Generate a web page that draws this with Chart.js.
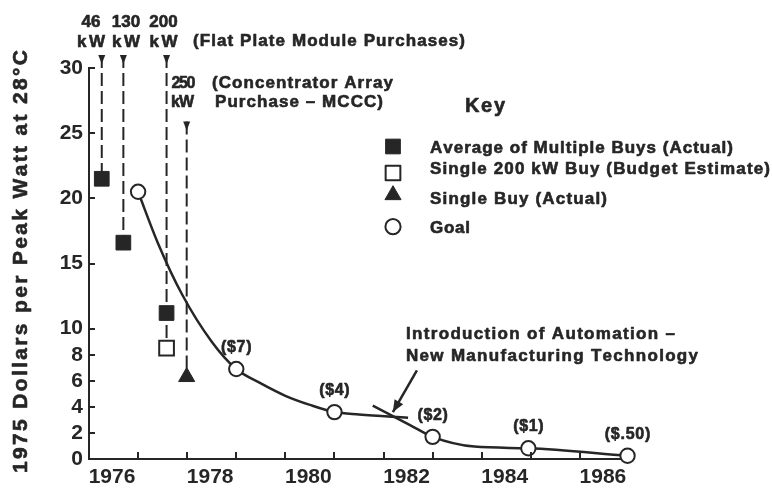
<!DOCTYPE html>
<html><head><meta charset="utf-8">
<script src="https://cdn.jsdelivr.net/npm/chart.js@4.4.1/dist/chart.umd.min.js"></script>
<style>html,body{margin:0;padding:0;background:#fff}canvas{display:block}</style>
</head><body>
<canvas id="c" width="772" height="488"></canvas>
<script>
// ---------- data ----------
const yTickValues = [0, 2, 4, 6, 8, 10, 15, 20, 25, 30];
const xLabelYears = [1976, 1978, 1980, 1982, 1984, 1986];
const xTickYears = [1977, 1978, 1979, 1980, 1981, 1982, 1983, 1984, 1985, 1986];

const avgBuysYear = [1976.26, 1976.7, 1977.58];
const avgBuysCost = [21.5, 16.6, 11.2];
const budgetYear = [1977.58];
const budgetCost = [8.5];
const singleBuyYear = [1977.99];
const singleBuyCost = [6.3];

const goalYear = [1977.0, 1979.0, 1981.0, 1983.0, 1984.95, 1986.97];
const goalCost = [20.5, 6.9, 3.6, 1.7, 0.82, 0.25];
const goalLabels = ['', '($7)', '($4)', '($2)', '($1)', '($.50)'];

const curveAYear = [1977.0, 1977.4, 1977.9, 1978.5, 1979.0, 1979.5, 1980.0, 1980.5, 1981.0, 1981.5, 1982.5];
const curveACost = [20.5, 16.6, 12.6, 9.0, 6.9, 5.8, 4.85, 4.15, 3.6, 3.42, 3.17];
const curveBYear = [1981.78, 1982.54, 1983.0, 1983.85, 1984.95, 1986.97];
const curveBCost = [4.1, 2.6, 1.7, 0.95, 0.82, 0.25];

const purchaseYear = [1976.26, 1976.7, 1977.58, 1977.99];
const purchaseTop = [31.0, 31.0, 31.0, 25.9];
const purchaseBottom = [21.5, 16.6, 8.5, 6.3];

const automationArrowYear = [1982.68, 1982.19];
const automationArrowCost = [6.8, 3.6];

const yTitle = '1975 Dollars per Peak Watt at 28°C';
const legendLabels = ['Average of Multiple Buys (Actual)', 'Single 200 kW Buy (Budget Estimate)', 'Single Buy (Actual)', 'Goal'];

// ---------- styles ----------
const FONT = '"Liberation Sans", Arial, Helvetica, sans-serif';
const INK = '#262626';

const pts = (xs, ys) => xs.map((x, i) => ({x: x, y: ys[i]}));

const avgStyle = {pointStyle: 'rect', radius: 10.4, backgroundColor: INK, borderColor: INK, borderWidth: 1, rotation: 0};
const budgetStyle = {pointStyle: 'rect', radius: 10.4, backgroundColor: '#fff', borderColor: INK, borderWidth: 2, rotation: 0};
const triStyle = {pointStyle: 'triangle', radius: 9.3, backgroundColor: INK, borderColor: INK, borderWidth: 1, rotation: 0};
const goalStyle = {pointStyle: 'circle', radius: 7.2, backgroundColor: '#fff', borderColor: INK, borderWidth: 2, rotation: 0};

function markerDs(label, data, st) {
  return {label, data, showLine: false, order: 0, clip: false,
    pointStyle: st.pointStyle, pointRadius: st.radius, pointHoverRadius: st.radius,
    pointBackgroundColor: st.backgroundColor, pointBorderColor: st.borderColor,
    pointBorderWidth: st.borderWidth};
}

const datasets = [
  markerDs('Goal', pts(goalYear, goalCost), goalStyle),
  markerDs('Average of Multiple Buys (Actual)', pts(avgBuysYear, avgBuysCost), avgStyle),
  markerDs('Single 200 kW Buy (Budget Estimate)', pts(budgetYear, budgetCost), budgetStyle),
  markerDs('Single Buy (Actual)', pts(singleBuyYear, singleBuyCost), triStyle),
  {label: 'curveA', data: pts(curveAYear, curveACost), showLine: true, order: 2, pointRadius: 0,
    borderColor: INK, borderWidth: 2.5, cubicInterpolationMode: 'monotone', clip: false},
  {label: 'curveB', data: pts(curveBYear, curveBCost), showLine: true, order: 2, pointRadius: 0,
    borderColor: INK, borderWidth: 2.5, cubicInterpolationMode: 'monotone', clip: false},
  {label: 'automation', data: pts(automationArrowYear, automationArrowCost), showLine: true, order: 2,
    pointRadius: 0, borderColor: INK, borderWidth: 2.5, arrowEnd: true, clip: false}
];
purchaseYear.forEach((yr, i) => {
  datasets.push({label: 'purchase' + i, data: [{x: yr, y: purchaseTop[i]}, {x: yr, y: purchaseBottom[i]}],
    showLine: true, order: 3, pointRadius: 0, borderColor: INK, borderWidth: 2,
    borderDash: [13, 5], arrowTop: true, clip: false});
});

function drawSpaced(ctx, text, x, y, size, width, align, weight) {
  ctx.font = (weight || 'bold') + ' ' + size + 'px ' + FONT;
  const chars = Array.from(text);
  const widths = chars.map(c => ctx.measureText(c).width);
  const natural = widths.reduce((a, b) => a + b, 0);
  const ls = (width && chars.length > 1) ? (width - natural) / (chars.length - 1) : 0;
  const total = natural + ls * (chars.length - 1);
  let cx = align === 'center' ? x - total / 2 : (align === 'right' ? x - total : x);
  ctx.textAlign = 'left';
  ctx.lineWidth = 0.6;
  ctx.lineJoin = 'round';
  chars.forEach((c, i) => { ctx.fillText(c, cx, y); ctx.strokeText(c, cx, y); cx += widths[i] + ls; });
}

const annotPlugin = {
  id: 'annot',
  afterDatasetsDraw(chart) {
    const ctx = chart.ctx;
    const xs = chart.scales.x, ys = chart.scales.y;
    ctx.save();
    ctx.fillStyle = INK; ctx.strokeStyle = INK;
    // inward tick marks
    ctx.lineWidth = 2;
    xTickYears.forEach(v => {
      const px = Math.round(xs.getPixelForValue(v));
      ctx.beginPath(); ctx.moveTo(px, ys.bottom); ctx.lineTo(px, ys.bottom - 7); ctx.stroke();
    });
    yTickValues.forEach(v => {
      if (v === 0) return;
      const py = Math.round(ys.getPixelForValue(v));
      ctx.beginPath(); ctx.moveTo(xs.left, py); ctx.lineTo(xs.left + 6, py); ctx.stroke();
    });
    // arrowheads
    chart.data.datasets.forEach((ds, i) => {
      const meta = chart.getDatasetMeta(i);
      if (ds.arrowTop) {
        const p = meta.data[0];
        ctx.beginPath();
        ctx.moveTo(p.x - 3.5, p.y); ctx.lineTo(p.x + 3.5, p.y); ctx.lineTo(p.x, p.y + 9);
        ctx.closePath(); ctx.fill();
      }
      if (ds.arrowEnd) {
        const a = meta.data[0], b = meta.data[meta.data.length - 1];
        const ang = Math.atan2(b.y - a.y, b.x - a.x);
        const L = 12, W = 5;
        ctx.beginPath();
        ctx.moveTo(b.x, b.y);
        ctx.lineTo(b.x - L * Math.cos(ang) + W * Math.sin(ang), b.y - L * Math.sin(ang) - W * Math.cos(ang));
        ctx.lineTo(b.x - L * Math.cos(ang) - W * Math.sin(ang), b.y - L * Math.sin(ang) + W * Math.cos(ang));
        ctx.closePath(); ctx.fill();
      }
    });
    // goal labels
    ctx.textBaseline = 'alphabetic';
    goalLabels.forEach((t, i) => {
      if (!t) return;
      const px = xs.getPixelForValue(goalYear[i]);
      const py = ys.getPixelForValue(goalCost[i]);
      drawSpaced(ctx, t, px, py - 17, 16, t.length * 7.6, 'center', 'bold');
    });
    // top annotations
    drawSpaced(ctx, '46', 91, 27, 17, null, 'center');
    drawSpaced(ctx, 'kW', 91, 47, 17, 28, 'center');
    drawSpaced(ctx, '130', 126, 27, 17, null, 'center');
    drawSpaced(ctx, 'kW', 126, 47, 17, 28, 'center');
    drawSpaced(ctx, '200', 163.5, 27, 17, null, 'center');
    drawSpaced(ctx, 'kW', 163.5, 47, 17, 28, 'center');
    drawSpaced(ctx, '(Flat Plate Module Purchases)', 193, 46, 17, 272, 'left');
    drawSpaced(ctx, '250', 171.5, 88, 16, 24, 'left');
    drawSpaced(ctx, 'kW', 171, 107, 16, 23, 'left');
    drawSpaced(ctx, '(Concentrator Array', 212, 88, 17, 181, 'left');
    drawSpaced(ctx, 'Purchase \u2013 MCCC)', 215, 107, 17, 168, 'left');
    // key
    drawSpaced(ctx, 'Key', 465, 112, 20, 40, 'left');
    const legY = [146.5, 173, 195, 226.7];
    const legBase = [152.5, 174, 203.5, 233];
    const legW = [303, 340, 177, 40];
    const styles = [avgStyle, budgetStyle, triStyle, goalStyle];
    styles.forEach((st, i) => {
      ctx.save();
      ctx.fillStyle = st.backgroundColor; ctx.strokeStyle = st.borderColor; ctx.lineWidth = st.borderWidth;
      Chart.helpers.drawPoint(ctx, {pointStyle: st.pointStyle, radius: i === 3 ? 7.6 : st.radius, rotation: 0, borderWidth: st.borderWidth}, 393, legY[i]);
      ctx.restore();
      ctx.fillStyle = INK; ctx.strokeStyle = INK;
      drawSpaced(ctx, legendLabels[i], 430, legBase[i], 17, legW[i], 'left');
    });
    // automation note
    drawSpaced(ctx, 'Introduction of Automation \u2013', 406, 339, 17, 269, 'left');
    drawSpaced(ctx, 'New Manufacturing Technology', 406, 361, 17, 292, 'left');
    // y title
    ctx.save();
    ctx.translate(27, 261.5);
    ctx.rotate(-Math.PI / 2);
    drawSpaced(ctx, yTitle, 0, 0, 21, 423, 'center');
    ctx.restore();
    ctx.restore();
  }
};

new Chart(document.getElementById('c'), {
  type: 'scatter',
  data: {datasets},
  options: {
    responsive: false, animation: false, devicePixelRatio: 1,
    layout: {padding: {top: 68, right: 143, bottom: 0, left: 0}},
    plugins: {legend: {display: false}, tooltip: {enabled: false}},
    scales: {
      x: {
        type: 'linear', min: 1976, max: 1987,
        afterBuildTicks: s => { s.ticks = xLabelYears.map(v => ({value: v})); },
        ticks: {callback: v => String(v), labelOffset: 23, padding: 6, autoSkip: false, maxRotation: 0,
          font: {family: FONT, size: 21, weight: 'bold'}, color: INK},
        grid: {display: false, drawTicks: false},
        border: {display: true, color: INK, width: 2},
        afterFit: s => { s.height = 29; }
      },
      y: {
        min: 0, max: 30,
        afterBuildTicks: s => { s.ticks = yTickValues.map(v => ({value: v})); },
        ticks: {padding: 6, font: {family: FONT, size: 21, weight: 'bold'}, color: INK},
        grid: {display: false, drawTicks: false},
        border: {display: true, color: INK, width: 2},
        afterFit: s => { s.width = 89; }
      }
    }
  },
  plugins: [annotPlugin]
});
</script>
</body></html>
